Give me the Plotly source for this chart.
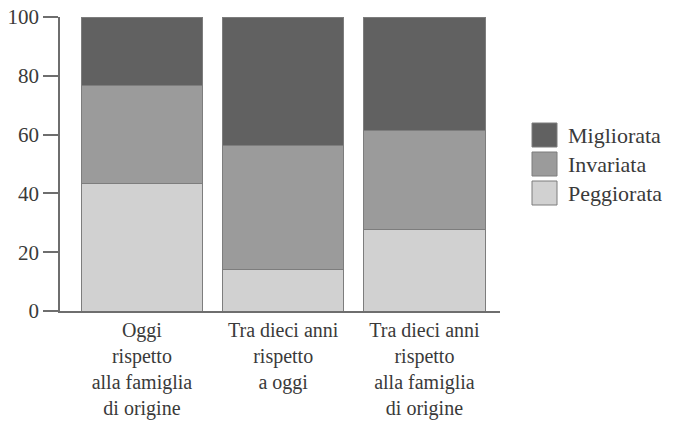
import plotly.graph_objects as go

categories = [
    "Oggi<br>rispetto<br>alla famiglia<br>di origine",
    "Tra dieci anni<br>rispetto<br>a oggi",
    "Tra dieci anni<br>rispetto<br>alla famiglia<br>di origine",
]
peggiorata = [43.2, 14.0, 27.6]
invariata = [33.5, 42.4, 33.8]
migliorata = [23.3, 43.6, 38.6]

series = [
    ("Peggiorata", peggiorata, "#d1d1d1"),
    ("Invariata", invariata, "#9b9b9b"),
    ("Migliorata", migliorata, "#616161"),
]

FONT = "Liberation Serif"
TXT = "#3a3a3a"
# page body has an 8px margin, so the figure is drawn 8px smaller and shifted
W, H = 665, 422
L, R, T, B = 52, 173, 9, 119
PW, PH = W - L - R, H - T - B

fig = go.Figure()
for name, vals, col in series:
    fig.add_bar(x=categories, y=vals, name=name, marker_color=col,
                marker_line=dict(color="#7d7d7d", width=1), showlegend=False)

# hand-made legend with big swatches (top to bottom: Migliorata, Invariata, Peggiorata)
def px2x(p):
    return (p - L) / PW

def px2y(p):
    return (H - B - p) / PH

for i, (name, vals, col) in enumerate(reversed(series)):
    cy = 127 + i * 29
    fig.add_shape(type="rect", xref="paper", yref="paper",
                  x0=px2x(524), x1=px2x(549), y0=px2y(cy + 12), y1=px2y(cy - 12),
                  fillcolor=col, line=dict(color="#7d7d7d", width=1))
    fig.add_annotation(xref="paper", yref="paper", x=px2x(558), y=px2y(cy),
                       text=name, showarrow=False, xanchor="left", yanchor="middle",
                       font=dict(family=FONT, size=22, color=TXT))

fig.update_layout(
    width=W, height=H,
    margin=dict(l=L, r=R, t=T, b=B),
    barmode="stack", bargap=0.14,
    plot_bgcolor="white", paper_bgcolor="white",
    font=dict(family=FONT, size=20, color=TXT),
    showlegend=False,
)
fig.update_xaxes(range=[-0.58, 2.535], showline=True, linecolor="#6e6e6e", linewidth=1.5,
                 showgrid=False, ticks="", tickfont=dict(size=20), automargin=False,
                 ticklabeloverflow="allow")
fig.update_yaxes(range=[0, 100], dtick=20, showline=True, linecolor="#6e6e6e", linewidth=1.5,
                 ticks="outside", ticklen=15, tickcolor="#6e6e6e", tickwidth=1.5,
                 showgrid=False, zeroline=False, tickfont=dict(size=21), automargin=False,
                 ticklabeloverflow="allow")

fig.write_html("out.html")
